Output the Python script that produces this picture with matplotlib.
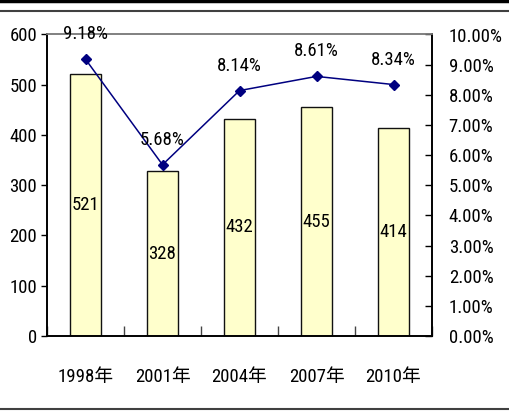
import matplotlib
matplotlib.use("Agg")
import matplotlib.pyplot as plt
from matplotlib.lines import Line2D
from matplotlib import font_manager as fm
import numpy as np
import logging
logging.getLogger('matplotlib.font_manager').setLevel(logging.ERROR)

categories = ["1998年", "2001年", "2004年", "2007年", "2010年"]
bar_values = [521, 328, 432, 455, 414]
pct_values = [9.18, 5.68, 8.14, 8.61, 8.34]
left_ticks = [0, 100, 200, 300, 400, 500, 600]
right_ticks = [0, 1, 2, 3, 4, 5, 6, 7, 8, 9, 10]

available = {f.name for f in fm.fontManager.ttflist}
narrow_choices = ['Liberation Sans Narrow', 'Arial Narrow', 'Roboto Condensed', 'IBM Plex Sans Condensed',
                  'Fira Sans Extra Condensed', 'Fira Sans Condensed', 'Encode Sans Condensed',
                  'Open Sans Condensed', 'PT Sans Narrow', 'Archivo Narrow', 'DejaVu Sans']
fams = [f for f in narrow_choices if f in available][:1] + ['Noto Sans CJK SC', 'DejaVu Sans']
plt.rcParams['font.family'] = fams
FS = 13.5

W, H = 510, 411
fig = plt.figure(figsize=(W / 100, H / 100), dpi=100)
L, R, T, B = 47, 432, 34.5, 336
ax = fig.add_axes([L / W, 1 - B / H, (R - L) / W, (B - T) / H])
ax2 = ax.twinx()

x = np.arange(len(categories))
ax.bar(x, bar_values, width=0.39, color="#FFFFCC", edgecolor="#111111", linewidth=1.0, zorder=2)
ax.set_xlim(-0.5, len(categories) - 0.5)
ax.set_ylim(0, 600)
ax.set_yticks(left_ticks)
ax.set_yticklabels([str(v) for v in left_ticks], fontsize=FS)
ax.tick_params(axis='y', direction='out', length=4, width=1, pad=3)

ax.set_xticks(np.arange(len(categories) + 1) - 0.5)
ax.set_xticklabels([])
ax.tick_params(axis='x', which='major', direction='in', length=7, width=1, color='#444444')
ax.set_xticks(x, minor=True)
ax.set_xticklabels(categories, minor=True, fontsize=FS)
ax.tick_params(axis='x', which='minor', length=0, pad=23)

for i, v in enumerate(bar_values):
    ax.text(x[i], v / 2, str(v), ha='center', va='center', fontsize=FS, zorder=5)

ax2.plot(x, pct_values, color="#000080", linewidth=1.1, marker='D', markersize=5.5,
         markerfacecolor="#000080", markeredgecolor="#000080", zorder=4)
ax2.set_ylim(0, 10)
ax2.set_yticks(right_ticks)
ax2.set_yticklabels([f"{v:.2f}%" for v in right_ticks], fontsize=FS)
ax2.tick_params(axis='y', direction='in', length=5, width=1, pad=12)

for i, v in enumerate(pct_values):
    ax2.annotate(f"{v:.2f}%", (x[i], v), xytext=(0, 18), textcoords='offset points',
                 ha='center', va='center', fontsize=FS, zorder=6)

for a in (ax, ax2):
    a.spines['top'].set_color('#808080')
    a.spines['top'].set_linewidth(1.2)
    for s in ('left', 'right', 'bottom'):
        a.spines[s].set_color('black')
        a.spines[s].set_linewidth(1.2)

fig.add_artist(Line2D([0, 1], [1 - 1.2 / H, 1 - 1.2 / H], color='black', linewidth=2.5, transform=fig.transFigure))
fig.add_artist(Line2D([0, 1], [1 - 11 / H, 1 - 11 / H], color='#404040', linewidth=1.5, transform=fig.transFigure))
fig.add_artist(Line2D([0, 1], [1 - 408.5 / H, 1 - 408.5 / H], color='#404040', linewidth=1.5, transform=fig.transFigure))

fig.savefig("out.png", dpi=100)
